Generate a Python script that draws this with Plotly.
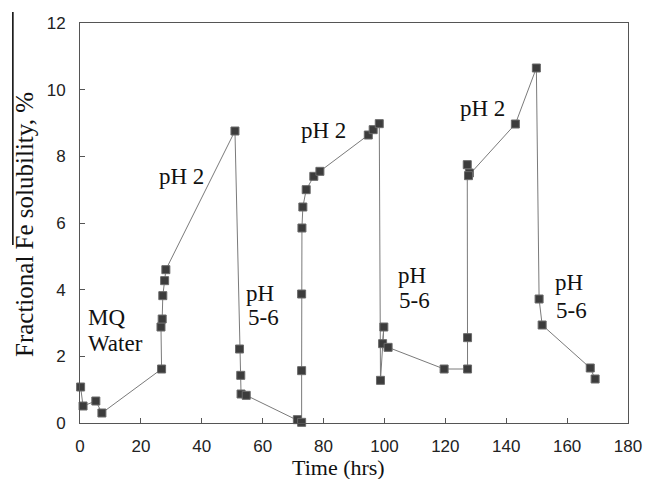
import plotly.graph_objects as go

# Time series of fractional Fe solubility across alternating pH cycles
time_hrs = [0.2, 1.0, 5.2, 7.2, 26.8, 26.6, 27.0, 27.2, 27.8, 28.2,
            50.9, 52.4, 52.8, 52.9, 54.6, 71.4, 72.8,
            72.8, 72.8, 72.9, 73.2, 74.3, 76.8, 78.8,
            94.7, 96.3, 98.3,
            98.7, 99.8, 99.4, 101.2, 119.6, 127.3,
            127.3, 127.2, 127.9, 127.6, 143.0, 149.9,
            150.8, 151.8, 167.6, 169.2]
solubility_pct = [1.08, 0.51, 0.66, 0.30, 1.62, 2.88, 3.12, 3.82, 4.27, 4.60,
                  8.76, 2.22, 1.43, 0.87, 0.83, 0.10, 0.02,
                  1.57, 3.87, 5.85, 6.48, 7.00, 7.40, 7.55,
                  8.64, 8.80, 8.98,
                  1.28, 2.88, 2.38, 2.27, 1.62, 1.62,
                  2.56, 7.75, 7.50, 7.42, 8.97, 10.65,
                  3.72, 2.94, 1.65, 1.32]

# Phase labels, one entry per text line: (text, left edge time, line centre value)
label_text = ["MQ", "Water", "pH 2", "pH", "5-6", "pH 2", "pH", "5-6", "pH 2", "pH", "5-6"]
label_time = [1.95, 1.95, 25.3, 53.8, 54.4, 72.0, 103.8, 104.1, 124.2, 155.4, 155.7]
label_value = [3.17, 2.39, 7.41, 3.89, 3.17, 8.79, 4.44, 3.69, 9.44, 4.22, 3.39]

x_ticks = list(range(0, 181, 20))
y_ticks = list(range(0, 13, 2))

fig = go.Figure()
fig.add_trace(go.Scatter(
    x=time_hrs, y=solubility_pct, mode="lines+markers",
    line=dict(color="#7a7a7a", width=1),
    marker=dict(symbol="square", size=8, color="#3c3c3c",
                line=dict(color="#6a6a6a", width=1)),
    cliponaxis=False, showlegend=False,
))

serif = "Liberation Serif, Times New Roman, serif"
for txt, tx, ty in zip(label_text, label_time, label_value):
    fig.add_annotation(x=tx, y=ty, xref="x", yref="y", text=txt, showarrow=False,
                       xanchor="left", yanchor="middle", align="left",
                       font=dict(family=serif, size=23, color="#111"))

# Axis titles
fig.add_annotation(x=84.8, y=0, xref="x", yref="paper", yshift=-44,
                   text="Time (hrs)", showarrow=False, xanchor="center", yanchor="middle",
                   font=dict(family=serif, size=22, color="#111"))
fig.add_annotation(x=0, y=5.94, xref="paper", yref="y", xshift=-56,
                   text="Fractional Fe solubility, %", textangle=-90, showarrow=False,
                   xanchor="center", yanchor="middle",
                   font=dict(family=serif, size=25, color="#111"))

# Thin vertical rule at the left edge
fig.add_shape(type="line", xref="paper", yref="paper",
              x0=-0.1225, x1=-0.1225, y0=0.445, y1=1.0275,
              line=dict(color="#000", width=1.5))

axis_common = dict(showgrid=False, zeroline=False, showline=True, mirror=True,
                   linecolor="#555", linewidth=1, ticks="inside", ticklen=5,
                   tickcolor="#555", tickfont=dict(family="Liberation Sans, Arial, sans-serif",
                                                   size=17, color="#222"))
fig.update_xaxes(range=[0, 180], tickvals=x_ticks, ticklabelstandoff=8, **axis_common)
fig.update_yaxes(range=[0, 12], tickvals=y_ticks, ticklabelstandoff=10, **axis_common)

fig.update_layout(width=654, height=479, margin=dict(l=80, r=19, t=23, b=56),
                  paper_bgcolor="white", plot_bgcolor="white")

fig.write_html("out.html")
